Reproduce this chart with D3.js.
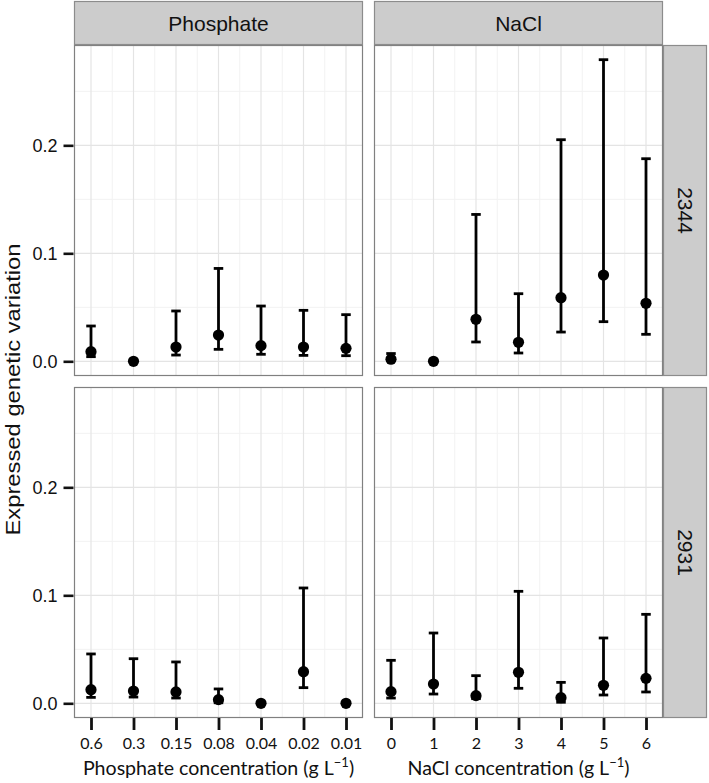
<!DOCTYPE html>
<html>
<head>
<meta charset="utf-8">
<script src="https://cdn.jsdelivr.net/npm/d3@7"></script>
<style>
  body { margin: 0; background: #fff; }
  svg { display: block; }
</style>
</head>
<body>
<svg id="chart" width="709" height="783"></svg>
<script>
// ---------- data ----------
const colFacets = ["Phosphate", "NaCl"];
const rowFacets = ["2344", "2931"];
const phosphateLevels = ["0.6", "0.3", "0.15", "0.08", "0.04", "0.02", "0.01"];
const naclLevels = ["0", "1", "2", "3", "4", "5", "6"];
const yTicks = [0.0, 0.1, 0.2];

const phos2344Mean = [0.0089, 0, 0.0132, 0.0243, 0.0145, 0.0132, 0.0120];
const phos2344Low  = [0.0043, 0, 0.0058, 0.0111, 0.0065, 0.0055, 0.0052];
const phos2344High = [0.0327, 0, 0.0466, 0.0860, 0.0512, 0.0472, 0.0432];

const nacl2344Mean = [0.0019, 0, 0.0389, 0.0176, 0.0589, 0.0799, 0.0537];
const nacl2344Low  = [0.0005, 0, 0.0179, 0.0077, 0.0271, 0.0367, 0.0250];
const nacl2344High = [0.0072, 0, 0.1360, 0.0626, 0.2052, 0.2793, 0.1876];

const phos2931Mean = [0.0126, 0.0114, 0.0105, 0.0034, 0, 0.0293, 0];
const phos2931Low  = [0.0055, 0.0058, 0.0049, 0.0005, 0, 0.0145, 0];
const phos2931High = [0.0457, 0.0413, 0.0383, 0.0133, 0, 0.1068, 0];

const nacl2931Mean = [0.0108, 0.0179, 0.0071, 0.0287, 0.0052, 0.0167, 0.0231];
const nacl2931Low  = [0.0049, 0.0086, 0.0043, 0.0139, 0.0010, 0.0077, 0.0105];
const nacl2931High = [0.0398, 0.0651, 0.0256, 0.1037, 0.0194, 0.0605, 0.0824];

// ---------- layout ----------
const svg = d3.select("#chart");
const panelW = 289, panelH = 331;
const colX = [74, 374];
const rowY = [45, 387];
const stripTop = 1, stripRightW = 44;

const panels = [
  {r: 0, c: 0, levels: phosphateLevels, mean: phos2344Mean, low: phos2344Low, high: phos2344High},
  {r: 0, c: 1, levels: naclLevels, mean: nacl2344Mean, low: nacl2344Low, high: nacl2344High},
  {r: 1, c: 0, levels: phosphateLevels, mean: phos2931Mean, low: phos2931Low, high: phos2931High},
  {r: 1, c: 1, levels: naclLevels, mean: nacl2931Mean, low: nacl2931Low, high: nacl2931High}
];

const y = d3.scaleLinear().domain([-0.0136, 0.2929]).range([panelH, 0]);
const yMinor = [0.05, 0.15, 0.25];

const sansFont = "'Liberation Sans', Helvetica, Arial, sans-serif";
const tickFont = "Lato, 'Open Sans', sans-serif";

panels.forEach(p => {
  const g = svg.append("g").attr("transform", `translate(${colX[p.c]},${rowY[p.r]})`);
  const x = d3.scalePoint().domain(p.levels).range([0, panelW]).padding(0.4);
  const xs = p.levels.map(l => x(l));
  const xMinor = xs.slice(1).map((v, i) => (v + xs[i]) / 2);

  g.append("rect").attr("width", panelW).attr("height", panelH).attr("fill", "#fff");
  // minor grid
  g.selectAll(".ymin").data(yMinor).join("line")
    .attr("x1", 0).attr("x2", panelW).attr("y1", d => y(d)).attr("y2", d => y(d))
    .attr("stroke", "#f2f2f2").attr("stroke-width", 1);
  g.selectAll(".xmin").data(xMinor).join("line")
    .attr("y1", 0).attr("y2", panelH).attr("x1", d => d).attr("x2", d => d)
    .attr("stroke", "#f2f2f2").attr("stroke-width", 1);
  // major grid
  g.selectAll(".ymaj").data(yTicks).join("line")
    .attr("x1", 0).attr("x2", panelW).attr("y1", d => y(d)).attr("y2", d => y(d))
    .attr("stroke", "#e4e4e4").attr("stroke-width", 1.2);
  g.selectAll(".xmaj").data(p.levels).join("line")
    .attr("y1", 0).attr("y2", panelH).attr("x1", d => x(d)).attr("x2", d => x(d))
    .attr("stroke", "#e4e4e4").attr("stroke-width", 1.2);

  // error bars
  const data = p.levels.map((l, i) => ({l, m: p.mean[i], lo: p.low[i], hi: p.high[i]}));
  const eb = data.filter(d => d.hi - d.lo > 0);
  const capW = 8.5;
  g.selectAll(".ebv").data(eb).join("line")
    .attr("x1", d => x(d.l)).attr("x2", d => x(d.l))
    .attr("y1", d => y(d.lo)).attr("y2", d => y(d.hi))
    .attr("stroke", "#000").attr("stroke-width", 2.8);
  g.selectAll(".ebt").data(eb).join("line")
    .attr("x1", d => x(d.l) - capW / 2 - 0.5).attr("x2", d => x(d.l) + capW / 2 + 0.5)
    .attr("y1", d => y(d.hi)).attr("y2", d => y(d.hi))
    .attr("stroke", "#000").attr("stroke-width", 2.8);
  g.selectAll(".ebb").data(eb).join("line")
    .attr("x1", d => x(d.l) - capW / 2 - 0.5).attr("x2", d => x(d.l) + capW / 2 + 0.5)
    .attr("y1", d => y(d.lo)).attr("y2", d => y(d.lo))
    .attr("stroke", "#000").attr("stroke-width", 2.8);
  // points
  g.selectAll(".pt").data(data).join("circle")
    .attr("cx", d => x(d.l)).attr("cy", d => y(d.m)).attr("r", 5.6)
    .attr("fill", "#000");

  // border
  g.append("rect").attr("x", 0.5).attr("y", 0.5).attr("width", panelW - 1).attr("height", panelH - 1)
    .attr("fill", "none").attr("stroke", "#808080").attr("stroke-width", 1.2);

  // y axis on left column
  if (p.c === 0) {
    const ax = g.append("g").attr("transform", "translate(-0.5,0)")
      .call(d3.axisLeft(y).tickValues(yTicks).tickFormat(d3.format(".1f")).tickSize(10).tickPadding(6));
    ax.select(".domain").remove();
    ax.selectAll(".tick line").attr("stroke", "#111").attr("stroke-width", 2.6);
    ax.selectAll(".tick text").attr("fill", "#111").style("font-family", sansFont).style("font-size", "18px");
  }
  // x axis on bottom row
  if (p.r === 1) {
    const ax = g.append("g").attr("transform", `translate(0,${panelH})`)
      .call(d3.axisBottom(x).tickSize(12).tickPadding(8));
    ax.select(".domain").remove();
    ax.selectAll(".tick line").attr("stroke", "#111").attr("stroke-width", 2.8);
    ax.selectAll(".tick text").attr("fill", "#111").style("font-family", tickFont).style("font-size", "16px");
  }
});

// top strips
colFacets.forEach((name, c) => {
  svg.append("rect").attr("x", colX[c] + 0.5).attr("y", stripTop + 0.5)
    .attr("width", panelW - 1).attr("height", rowY[0] - stripTop - 1)
    .attr("fill", "#cccccc").attr("stroke", "#8c8c8c").attr("stroke-width", 1.2);
  svg.append("text").attr("x", colX[c] + panelW / 2).attr("y", (stripTop + rowY[0]) / 2)
    .attr("text-anchor", "middle").attr("dominant-baseline", "central")
    .style("font-family", sansFont).style("font-size", "21px").attr("fill", "#111")
    .text(name);
});
// right strips
rowFacets.forEach((name, r) => {
  const sx = colX[1] + panelW;
  svg.append("rect").attr("x", sx + 0.5).attr("y", rowY[r] + 0.5)
    .attr("width", stripRightW - 1).attr("height", panelH - 1)
    .attr("fill", "#cccccc").attr("stroke", "#8c8c8c").attr("stroke-width", 1.2);
  const cx = sx + stripRightW / 2, cy = rowY[r] + panelH / 2;
  svg.append("text").attr("transform", `translate(${cx},${cy}) rotate(90)`)
    .attr("text-anchor", "middle").attr("dominant-baseline", "central")
    .style("font-family", sansFont).style("font-size", "21px").attr("fill", "#111")
    .text(name);
});

// axis titles
const yTitleY = (rowY[0] + rowY[1] + panelH) / 2 + 8;
svg.append("text").attr("transform", `translate(12,${yTitleY}) rotate(-90)`)
  .attr("text-anchor", "middle").attr("dominant-baseline", "central")
  .attr("textLength", 292).attr("lengthAdjust", "spacingAndGlyphs")
  .style("font-family", sansFont).style("font-size", "21px").attr("fill", "#111")
  .text("Expressed genetic variation");

const xTitles = ["Phosphate concentration (g L", "NaCl concentration (g L"];
xTitles.forEach((t, c) => {
  const tx = svg.append("text").attr("x", colX[c] + panelW / 2).attr("y", 775)
    .attr("text-anchor", "middle")
    .style("font-family", tickFont).style("font-size", "19.6px").attr("fill", "#111");
  tx.append("tspan").text(t);
  tx.append("tspan").attr("dy", -8).style("font-size", "13px").text("\u22121");
  tx.append("tspan").attr("dy", 8).text(")");
});
</script>
</body>
</html>
